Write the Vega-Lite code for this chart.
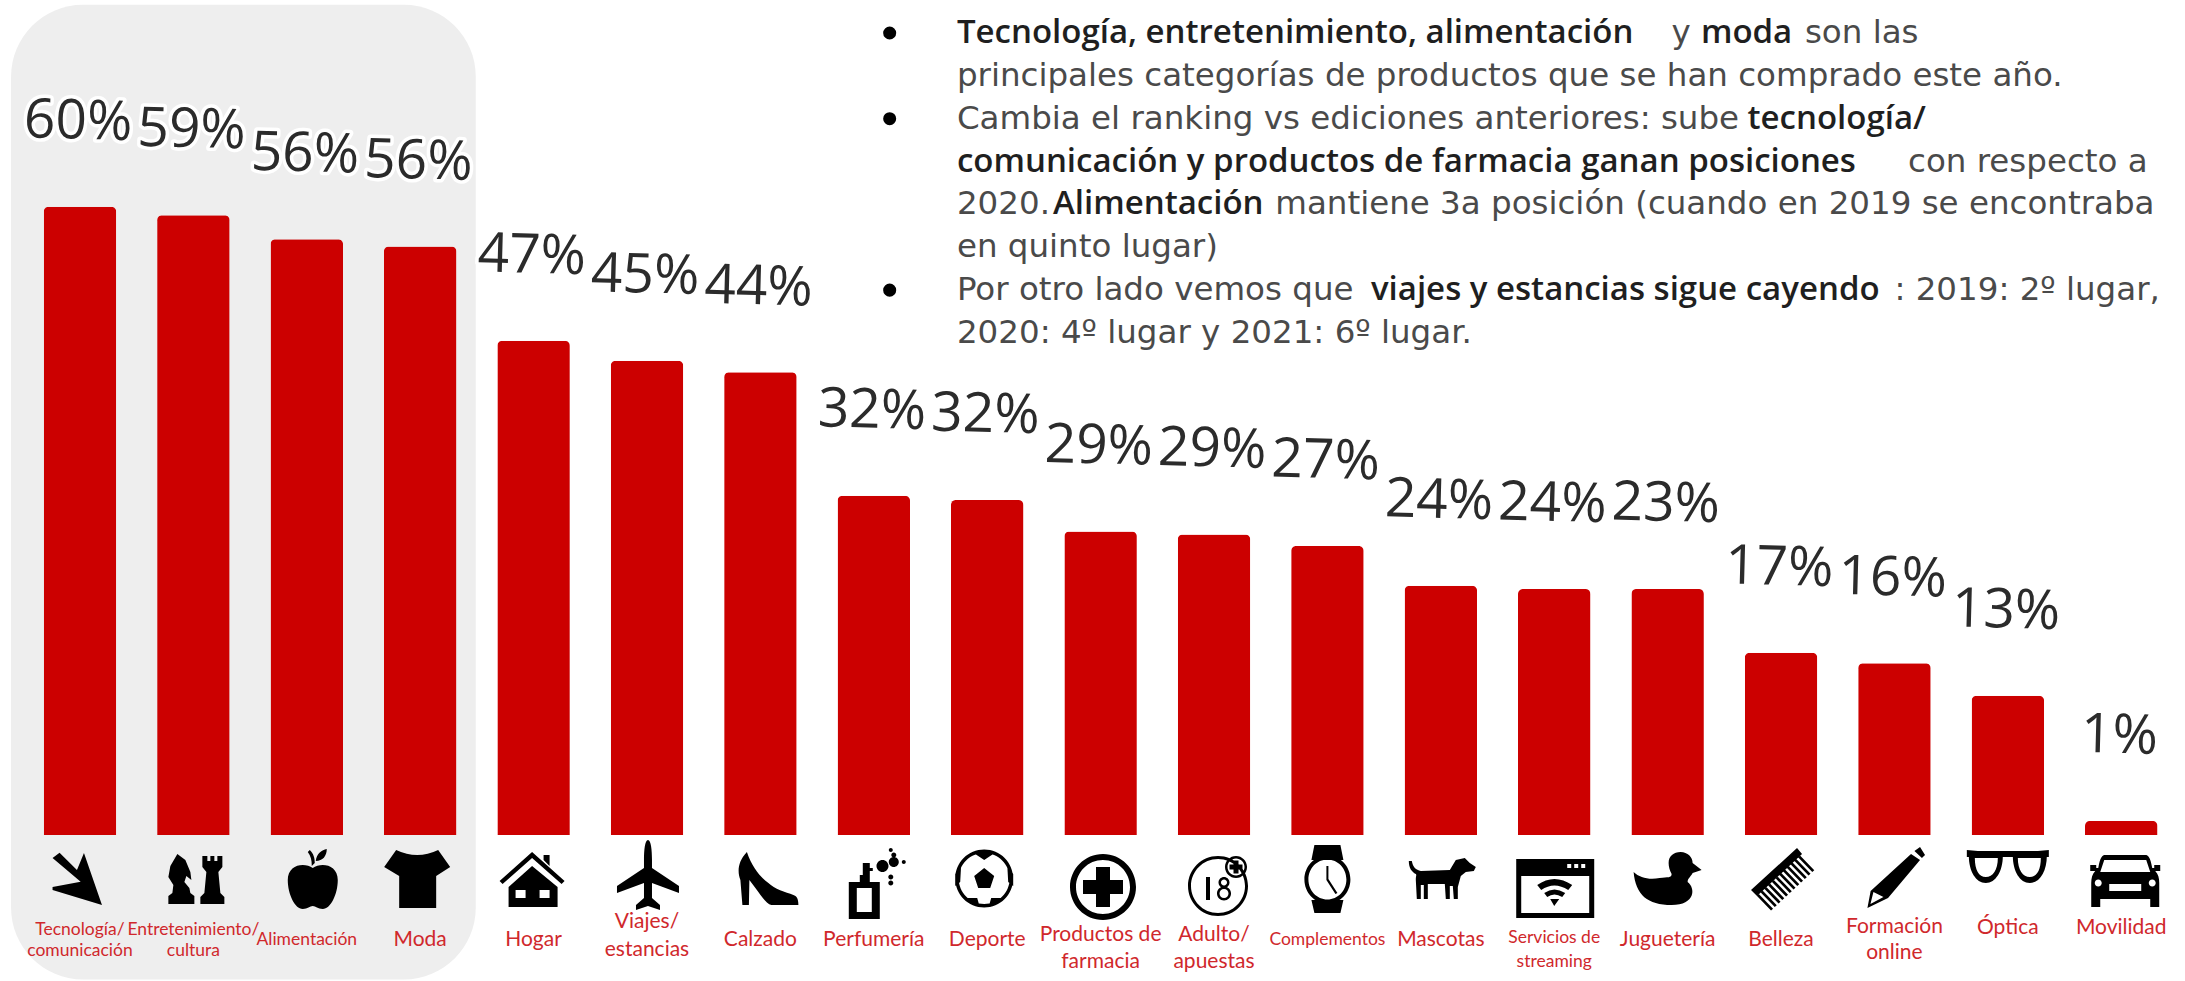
{"$schema":"https://vega.github.io/schema/vega-lite/v6.json","width":2185,"height":981,"autosize":{"type":"none"},"padding":0,"background":"white","config":{"view":{"stroke":null}},
"datasets":{
"panel":[{"grupo":"Top 4","desde":-0.108,"hasta":3.99,"base":-13.8,"tope":79.3}],
"categorias":[
{"categoria":"Tecnología/comunicación","valor":60,"etiqueta":"60%","icono":"flecha"},
{"categoria":"Entretenimiento/cultura","valor":59.2,"etiqueta":"59%","icono":"ajedrez"},
{"categoria":"Alimentación","valor":56.9,"etiqueta":"56%","icono":"manzana"},
{"categoria":"Moda","valor":56.2,"etiqueta":"56%","icono":"camiseta"},
{"categoria":"Hogar","valor":47.2,"etiqueta":"47%","icono":"casa"},
{"categoria":"Viajes/estancias","valor":45.3,"etiqueta":"45%","icono":"avion"},
{"categoria":"Calzado","valor":44.2,"etiqueta":"44%","icono":"tacon"},
{"categoria":"Perfumería","valor":32.4,"etiqueta":"32%","icono":"perfume"},
{"categoria":"Deporte","valor":32,"etiqueta":"32%","icono":"balon"},
{"categoria":"Productos de farmacia","valor":29,"etiqueta":"29%","icono":"cruz"},
{"categoria":"Adulto/apuestas","valor":28.7,"etiqueta":"29%","icono":"adulto"},
{"categoria":"Complementos","valor":27.6,"etiqueta":"27%","icono":"reloj"},
{"categoria":"Mascotas","valor":23.8,"etiqueta":"24%","icono":"perro"},
{"categoria":"Servicios de streaming","valor":23.5,"etiqueta":"24%","icono":"ventana"},
{"categoria":"Juguetería","valor":23.5,"etiqueta":"23%","icono":"pato"},
{"categoria":"Belleza","valor":17.4,"etiqueta":"17%","icono":"peine"},
{"categoria":"Formación online","valor":16.4,"etiqueta":"16%","icono":"lapiz"},
{"categoria":"Óptica","valor":13.3,"etiqueta":"13%","icono":"gafas"},
{"categoria":"Movilidad","valor":1.35,"etiqueta":"1%","icono":"coche"}],
"rotulos":[
{"categoria":"Tecnología/comunicación","linea":"Tecnología/","nivel":-9.07,"cuerpo":"pequeno"},
{"categoria":"Tecnología/comunicación","linea":"comunicación","nivel":-11.08,"cuerpo":"pequeno"},
{"categoria":"Entretenimiento/cultura","linea":"Entretenimiento/","nivel":-9.07,"cuerpo":"pequeno"},
{"categoria":"Entretenimiento/cultura","linea":"cultura","nivel":-11.08,"cuerpo":"pequeno"},
{"categoria":"Alimentación","linea":"Alimentación","nivel":-10.03,"cuerpo":"pequeno"},
{"categoria":"Moda","linea":"Moda","nivel":-10.03,"cuerpo":"normal"},
{"categoria":"Hogar","linea":"Hogar","nivel":-10.03,"cuerpo":"normal"},
{"categoria":"Viajes/estancias","linea":"Viajes/","nivel":-8.31,"cuerpo":"normal"},
{"categoria":"Viajes/estancias","linea":"estancias","nivel":-10.98,"cuerpo":"normal"},
{"categoria":"Calzado","linea":"Calzado","nivel":-10.03,"cuerpo":"normal"},
{"categoria":"Perfumería","linea":"Perfumería","nivel":-10.03,"cuerpo":"normal"},
{"categoria":"Deporte","linea":"Deporte","nivel":-10.03,"cuerpo":"normal"},
{"categoria":"Productos de farmacia","linea":"Productos de","nivel":-9.55,"cuerpo":"normal"},
{"categoria":"Productos de farmacia","linea":"farmacia","nivel":-12.13,"cuerpo":"normal"},
{"categoria":"Adulto/apuestas","linea":"Adulto/","nivel":-9.55,"cuerpo":"normal"},
{"categoria":"Adulto/apuestas","linea":"apuestas","nivel":-12.13,"cuerpo":"normal"},
{"categoria":"Complementos","linea":"Complementos","nivel":-10.03,"cuerpo":"pequeno"},
{"categoria":"Mascotas","linea":"Mascotas","nivel":-10.03,"cuerpo":"normal"},
{"categoria":"Servicios de streaming","linea":"Servicios de","nivel":-9.84,"cuerpo":"pequeno"},
{"categoria":"Servicios de streaming","linea":"streaming","nivel":-12.13,"cuerpo":"pequeno"},
{"categoria":"Juguetería","linea":"Juguetería","nivel":-10.03,"cuerpo":"normal"},
{"categoria":"Belleza","linea":"Belleza","nivel":-10.03,"cuerpo":"normal"},
{"categoria":"Formación online","linea":"Formación","nivel":-8.79,"cuerpo":"normal"},
{"categoria":"Formación online","linea":"online","nivel":-11.27,"cuerpo":"normal"},
{"categoria":"Óptica","linea":"Óptica","nivel":-8.88,"cuerpo":"normal"},
{"categoria":"Movilidad","linea":"Movilidad","nivel":-8.88,"cuerpo":"normal"}],
"notas":[
{"renglon":0,"inicio":8.233,"texto":"Tecnología, entretenimiento, alimentación","negrita":true},
{"renglon":0,"inicio":14.534,"texto":"y","negrita":false},
{"renglon":0,"inicio":14.794,"texto":"moda","negrita":true},
{"renglon":0,"inicio":15.711,"texto":"son las","negrita":false},
{"renglon":1,"inicio":8.233,"texto":"principales categorías de productos que se han comprado este año.","negrita":false},
{"renglon":2,"inicio":8.233,"texto":"Cambia el ranking vs ediciones anteriores: sube","negrita":false},
{"renglon":2,"inicio":15.205,"texto":"tecnología/","negrita":true},
{"renglon":3,"inicio":8.233,"texto":"comunicación y productos de farmacia ganan posiciones","negrita":true},
{"renglon":3,"inicio":16.62,"texto":"con respecto a","negrita":false},
{"renglon":4,"inicio":8.233,"texto":"2020.","negrita":false},
{"renglon":4,"inicio":9.08,"texto":"Alimentación","negrita":true},
{"renglon":4,"inicio":11.04,"texto":"mantiene 3a posición (cuando en 2019 se encontraba","negrita":false},
{"renglon":5,"inicio":8.233,"texto":"en quinto lugar)","negrita":false},
{"renglon":6,"inicio":8.233,"texto":"Por otro lado vemos que","negrita":false},
{"renglon":6,"inicio":11.884,"texto":"viajes y estancias sigue cayendo","negrita":true},
{"renglon":6,"inicio":16.5,"texto":": 2019: 2º lugar,","negrita":false},
{"renglon":7,"inicio":8.233,"texto":"2020: 4º lugar y 2021: 6º lugar.","negrita":false}],
"vinetas":[{"renglon":0,"inicio":7.64},{"renglon":2,"inicio":7.64},{"renglon":6,"inicio":7.64}]
},
"resolve":{"scale":{"x":"independent","y":"independent"}},
"layer":[
{"data":{"name":"panel"},"mark":{"type":"rect","cornerRadius":72,"color":"#eeeeee"},
 "encoding":{"x":{"field":"desde","type":"quantitative","axis":null,"scale":{"domain":[0,19],"range":[23.3,2177.9],"nice":false,"zero":false}},"x2":{"field":"hasta"},
 "y":{"field":"base","type":"quantitative","axis":null,"scale":{"domain":[-13.94,79.75],"nice":false,"zero":false}},"y2":{"field":"tope"}}},
{"encoding":{"x":{"field":"categoria","type":"nominal","sort":null,"axis":null,"scale":{"type":"band","range":[23.3,2177.9],"paddingInner":0.3607,"paddingOuter":0.18}}},
 "layer":[
 {"data":{"name":"categorias"},"mark":{"type":"bar","color":"#cc0000","cornerRadiusTopLeft":5,"cornerRadiusTopRight":5},
  "encoding":{"y":{"field":"valor","type":"quantitative","axis":null,"scale":{"domain":[-13.94,79.75],"nice":false,"zero":false}}}},
 {"data":{"name":"categorias"},"mark":{"type":"text","font":"Open Sans","fontSize":55,"dy":-85,"dx":-4,"angle":1.5,"baseline":"middle","align":"center","color":"white","stroke":"white","strokeWidth":7,"strokeJoin":"round"},
  "encoding":{"y":{"field":"valor","type":"quantitative"},"text":{"field":"etiqueta"}}},
 {"data":{"name":"categorias"},"mark":{"type":"text","font":"Open Sans","fontSize":55,"dy":-85,"dx":-4,"angle":1.5,"baseline":"middle","align":"center","color":"#2b2b2b"},
  "encoding":{"y":{"field":"valor","type":"quantitative"},"text":{"field":"etiqueta"}}},
 {"data":{"name":"categorias"},"mark":{"type":"point","filled":true,"opacity":1,"color":"black","size":4},
  "encoding":{"y":{"datum":-4.3,"type":"quantitative"},
  "shape":{"field":"icono","type":"nominal","legend":null,"scale":{
   "domain":["flecha","ajedrez","manzana","camiseta","casa","avion","tacon","perfume","balon","cruz","adulto","reloj","perro","ventana","pato","peine","lapiz","gafas","coche"],
   "range":[
   "M -20.4 -27.3 L -3 -10 L 4 -27 L 22 25 L -27.4 10 L -27.4 7 L 0.7 1.7 L -27.4 -22 Z",
   "M -25 24 L -25 16 L -21 13 L -20 5 L -25 -3 L -23 -14 L -16 -26 L -8 -20 L -3 -8 L -2 0 L -7 -4 L -9 2 L -4 8 L -3 13 L 1 16 L 1 24 Z M 7 24 L 7 17 L 11 13 L 13 -8 L 9 -13 L 9 -24 L 14 -24 L 14 -19 L 17 -19 L 17 -24 L 21 -24 L 21 -19 L 24 -19 L 24 -24 L 29 -24 L 29 -13 L 25 -8 L 27 13 L 31 17 L 31 24 Z",
   "M 6 -12 C 14 -18 31 -16 31 0 C 31 14 24 29 16 29 C 11 29 9 26 6 26 C 3 26 1 29 -4 29 C -12 29 -19 14 -19 0 C -19 -16 -2 -18 6 -12 Z M 5 -14 C 5 -20 4 -24 1 -28 L 3 -30 C 7 -26 8 -22 8 -17 Z M 9 -19 C 10 -27 15 -30 20 -31 C 20 -24 16 -19 9 -19 Z",
   "M -24 -30 Q -3 -20 18 -30 L 30 -13 L 16 -4 L 16 28 L -21 28 L -21 -4 L -36 -13 Z",
   "M -34 1 L -1.5 -28 L 31 1 L 28 4 L -1.5 -22 L -31 4 Z M 10 -20 L 10 -25 L 16 -25 L 16 -14 Z M -25 27 L -25 7 L -1.5 -14 L 24 7 L 24 27 Z M -18 10 L -18 18 L -8 18 L -8 10 Z M 6 10 L 6 18 L 16 18 L 16 10 Z",
   "M 1 -40 C 4 -40 5 -30 5 -20 L 5 -12 L 32 6 L 32 13 L 5 3 L 5 18 L 13 25 L 13 30 L 1 26 L -11 30 L -11 25 L -3 18 L -3 3 L -30 13 L -30 6 L -3 -12 L -3 -20 C -3 -30 -2 -40 1 -40 Z",
   "M -13.5 -28 C -8 -12 0 -3 8 3 C 14 9 25 12 33 15 C 36 16 38 18 38 25 L 11 25 C 5 24 -3 10 -11 0 L -11.5 25 L -18 25 L -20 0 C -23 -8 -23 -18 -13.5 -28 Z",
   "M -25 39 L -25 2 L -14 2 L -14 -5 L -11 -5 L -11 -17 L -4 -17 L -4 -12 L -1 -12 L -1 -9 L -4 -9 L -4 2 L 6 2 L 6 39 Z M -17 8 L -17 32 L -2 32 L -2 8 Z M 2.7 -14 a 6 6 0 1 1 12 0 a 6 6 0 1 1 -12 0 Z M 15 -18 a 5 5 0 1 1 10 0 a 5 5 0 1 1 -10 0 Z M 28 -18 a 2 2 0 1 1 4 0 a 2 2 0 1 1 -4 0 Z M 15 -30 a 2 2 0 1 1 4 0 a 2 2 0 1 1 -4 0 Z M 17.5 -25 a 2.5 2.5 0 1 1 5 0 a 2.5 2.5 0 1 1 -5 0 Z M 14.5 -3 a 2.5 2.5 0 1 1 5 0 a 2.5 2.5 0 1 1 -5 0 Z M 14.5 3 a 2.5 2.5 0 1 1 5 0 a 2.5 2.5 0 1 1 -5 0 Z",
   "M -32 -1.5 a 29 29 0 1 1 58 0 a 29 29 0 1 1 -58 0 Z M -28.5 -1.5 a 25.5 25.5 0 1 0 51 0 a 25.5 25.5 0 1 0 -51 0 Z M -3 -12 L 7 -4 L 3 8 L -9 8 L -13 -4 Z M -12 -26 Q -3 -30 6 -26 L -3 -20 Z M 20 -16 L 26 -6 L 26 6 L 21 2 Z M -26 -16 L -27 2 L -32 6 L -32 -6 Z M -22 18 L -10 18 L -8 25 Q -16 24 -22 18 Z M 4 18 L 16 18 Q 10 24 2 25 Z",
   "M -30.6 7 a 33 33 0 1 1 66 0 a 33 33 0 1 1 -66 0 Z M -24.6 7 a 27 27 0 1 0 54 0 a 27 27 0 1 0 -54 0 Z M -4.6 -13 L 9.4 -13 L 9.4 0 L 22.4 0 L 22.4 14 L 9.4 14 L 9.4 27 L -4.6 27 L -4.6 14 L -17.6 14 L -17.6 0 L -4.6 0 Z",
   "M -26 6 a 30 30 0 1 1 60 0 a 30 30 0 1 1 -60 0 Z M -23 6 a 27 27 0 1 0 54 0 a 27 27 0 1 0 -54 0 Z M -8 -3 L -4 -3 L -4 20 L -8 20 Z M 4.5 2.5 a 5.5 5.5 0 1 1 11 0 a 5.5 5.5 0 1 1 -11 0 Z M 7 2.5 a 3 3 0 1 0 6 0 a 3 3 0 1 0 -6 0 Z M 3 13.5 a 7 7 0 1 1 14 0 a 7 7 0 1 1 -14 0 Z M 5.5 13.5 a 4.5 4.5 0 1 0 9 0 a 4.5 4.5 0 1 0 -9 0 Z M 11 -13 a 11 11 0 1 1 22 0 a 11 11 0 1 1 -22 0 Z M 19.5 -19.5 L 24.5 -19.5 L 24.5 -15.5 L 28.5 -15.5 L 28.5 -10.5 L 24.5 -10.5 L 24.5 -6.5 L 19.5 -6.5 L 19.5 -10.5 L 15.5 -10.5 L 15.5 -15.5 L 19.5 -15.5 Z M 13.5 -13 a 8.5 8.5 0 1 0 17 0 a 8.5 8.5 0 1 0 -17 0 Z",
   "M -13 -35 L 13 -35 L 16 -20 L -16 -20 Z M -16 20 L 16 20 L 13 33 L -13 33 Z M -23 -0.5 a 23 24 0 1 1 46 0 a 23 24 0 1 1 -46 0 Z M -19 -0.5 a 19 20 0 1 0 38 0 a 19 20 0 1 0 -38 0 Z M -1 -14 L 1 -14 L 1 -1 L 10 13 L 8 14 L -1 0 Z",
   "M -32 -19 L -29 -19 C -28 -13 -25 -10 -20 -9 L 9 -10 L 15 -20 L 24 -22 L 29 -17 L 35 -13 L 33 -9 L 25 -8 L 20 -4 L 17 7 L 17 19 L 13 19 L 12 6 L 9 6 L 9 19 L 5 19 L 4 4 L -13 4 L -13 19 L -17 19 L -17 5 L -20 5 L -20 19 L -24 19 L -25 0 C -25 -4 -24 -5 -25 -6 C -29 -8 -32 -12 -32 -19 Z",
   "M -38 -21 L 40 -21 L 40 38 L -38 38 Z M -33 -4 L -33 33 L 35 33 L 35 -4 Z M 13 -16 L 13 -12 L 17 -12 L 17 -16 Z M 20 -16 L 20 -12 L 24 -12 L 24 -16 Z M 27 -16 L 27 -12 L 31 -12 L 31 -16 Z M -17 5 Q 0 -7 18 5 L 14 10 Q 0 1 -13 10 Z M -10 13 Q 0 6 11 13 L 8 17 Q 0 12 -7 17 Z M -4 19 L 5 19 L 0 26 Z",
   "M -34 -8 C -28 -2 -18 0 -8 -2 C 0 -3 4 -2 4 -6 C 2 -10 1 -13 1 -17 C 1 -24 6 -28 13 -28 C 20 -28 25 -23 25 -17 L 34 -10 L 25 -7 C 24 -4 20 -2 20 2 C 28 8 28 25 4 25 C -20 25 -32 15 -34 -8 Z",
   "M -30 10 L 16 -32 L 21 -26 L -24 16 Z M -24 16 l 2 -1.9 l 14 14.5 l -2 1.9 Z M -20.25 12.5 l 2 -1.9 l 14 14.5 l -2 1.9 Z M -16.5 9 l 2 -1.9 l 14 14.5 l -2 1.9 Z M -12.75 5.5 l 2 -1.9 l 14 14.5 l -2 1.9 Z M -9 2 l 2 -1.9 l 14 14.5 l -2 1.9 Z M -5.25 -1.5 l 2 -1.9 l 14 14.5 l -2 1.9 Z M -1.5 -5 l 2 -1.9 l 14 14.5 l -2 1.9 Z M 2.25 -8.5 l 2 -1.9 l 14 14.5 l -2 1.9 Z M 6 -12 l 2 -1.9 l 14 14.5 l -2 1.9 Z M 9.75 -15.5 l 2 -1.9 l 14 14.5 l -2 1.9 Z M 13.5 -19 l 2 -1.9 l 14 14.5 l -2 1.9 Z M 17.25 -22.5 l 2 -1.9 l 14 14.5 l -2 1.9 Z",
   "M -27 28 L -23.8 11 L 16.6 -26 L 25.6 -20 L -6.4 18 Z M -24 24 L -11 17 L -21 12 Z M 20 -29 L 25.6 -33 L 30.6 -25 L 27.5 -22 Z",
   "M -39 -24 L -5 -24 C -5 -9 -12 3 -22 3 C -32 3 -39 -9 -39 -24 Z M -33 -22 C -33 -10 -29 -3 -22 -3 C -15 -3 -10 -10 -10 -22 Z M 5 -24 L 39 -24 C 39 -9 32 3 22 3 C 12 3 5 -9 5 -24 Z M 10 -22 C 10 -10 15 -3 22 -3 C 29 -3 33 -10 33 -22 Z M -41 -30 L -30 -29 L 30 -29 L 41 -30 L 41 -23 L -41 -23 Z",
   "M -16 -25 L 24 -25 C 27 -25 29 -23 31 -12 L 33 -12 L 33 -15 L 39 -15 L 39 -9 L 34 -9 C 37 -6 38 -2 38 3 L 38 27 L 29 27 L 29 19 L -21 19 L -21 27 L -30 27 L -30 3 C -30 -2 -29 -6 -26 -9 L -31 -9 L -31 -15 L -25 -15 L -25 -12 L -23 -12 C -21 -23 -19 -25 -16 -25 Z M -17 -20 L -21 -8 L 29 -8 L 25 -20 Z M -26.5 3 a 3.5 3.5 0 1 0 7 0 a 3.5 3.5 0 1 0 -7 0 Z M 27.5 3 a 3.5 3.5 0 1 0 7 0 a 3.5 3.5 0 1 0 -7 0 Z M -12 4 L -12 11 L 20 11 L 20 4 Z"
   ]}}}},
 {"data":{"name":"rotulos"},"mark":{"type":"text","font":"Lato","align":"center","baseline":"middle","color":"#d0282c"},
  "encoding":{"y":{"field":"nivel","type":"quantitative"},"text":{"field":"linea"},
  "size":{"field":"cuerpo","type":"ordinal","legend":null,"scale":{"domain":["normal","pequeno"],"range":[21,17.5]}}}}
 ]},
{"encoding":{"x":{"field":"inicio","type":"quantitative","axis":null,"scale":{"domain":[0,19],"range":[23.3,2177.9],"nice":false,"zero":false}},
  "y":{"field":"renglon","type":"quantitative","axis":null,"scale":{"domain":[0,7],"range":[33,333],"nice":false,"zero":false}}},
 "layer":[
 {"data":{"name":"vinetas"},"mark":{"type":"point","filled":true,"opacity":1,"color":"black","size":170,"shape":"circle"}},
 {"data":{"name":"notas"},"transform":[{"filter":"!datum.negrita"}],"mark":{"type":"text","font":"DejaVu Sans","fontSize":32.5,"align":"left","baseline":"middle","color":"#4a4a4a"},"encoding":{"text":{"field":"texto"}}},
 {"data":{"name":"notas"},"transform":[{"filter":"datum.negrita"}],"mark":{"type":"text","font":"Open Sans","fontSize":33,"fontWeight":600,"align":"left","baseline":"middle","color":"#1f1f1f"},"encoding":{"text":{"field":"texto"}}}
 ]}
]}
